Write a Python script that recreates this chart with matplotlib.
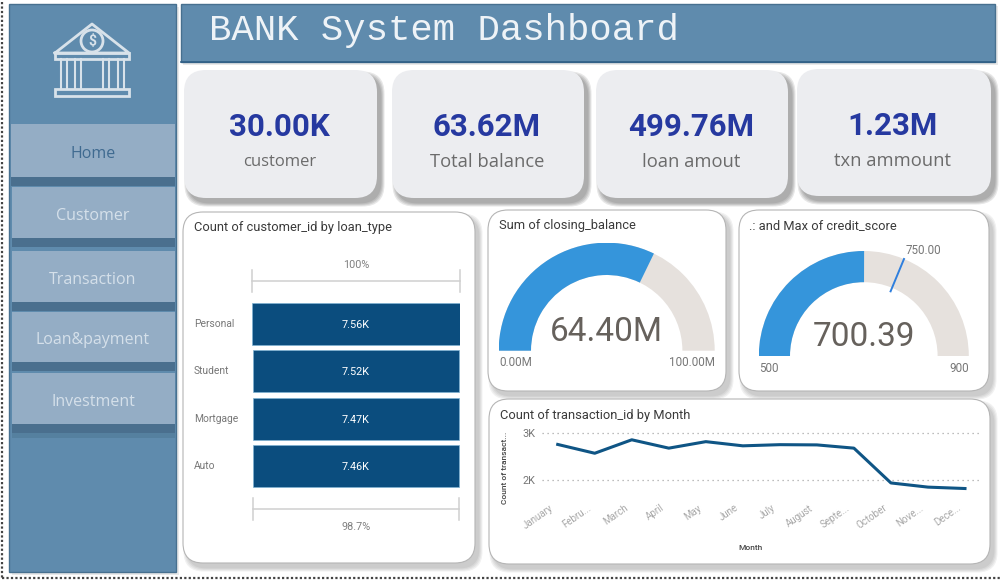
import math

import matplotlib
matplotlib.use('Agg')
import matplotlib.pyplot as plt
from matplotlib.patches import FancyBboxPatch, Rectangle, Wedge, Circle
from matplotlib.transforms import blended_transform_factory, ScaledTranslation

W, H = 1000, 582

# data
kpi_values = ['30.00K', '63.62M', '499.76M', '1.23M']
kpi_labels = ['customer', 'Total balance', 'loan amout', 'txn ammount']
nav_items = ['Home', 'Customer', 'Transaction', 'Loan&payment', 'Investment']

loan_types = ['Personal', 'Student', 'Mortgage', 'Auto']
loan_counts = [7.56, 7.52, 7.47, 7.46]
loan_labels = ['7.56K', '7.52K', '7.47K', '7.46K']

months = ['January', 'Febru...', 'March', 'April', 'May', 'June', 'July',
          'August', 'Septe...', 'October', 'Nove...', 'Dece...']
txn_counts = [2.76, 2.57, 2.86, 2.68, 2.82, 2.73, 2.755, 2.75, 2.68, 1.93, 1.84, 1.81]

balance_value, balance_min, balance_max = 64.40, 0, 100
credit_value, credit_min, credit_max, credit_target = 700.39, 500, 900, 750

SIDE = '#5f8bad'
BTN = '#94adc5'
GREY = '#777777'
UI = ['Open Sans', 'DejaVu Sans']
TITLE = ['Roboto', 'DejaVu Sans']

fig = plt.figure(figsize=(10, 5.82), dpi=100, facecolor='white')

# background axes in pixel coordinates, used for the layout boxes
bg = fig.add_axes([0, 0, 1, 1])
bg.set_xlim(0, W)
bg.set_ylim(H, 0)
bg.axis('off')


def px_axes(x0, y0, x1, y1):
    ax = fig.add_axes([x0 / W, 1 - y1 / H, (x1 - x0) / W, (y1 - y0) / H])
    ax.patch.set_alpha(0)
    return ax


def card(x0, y0, x1, y1, r, fc, ec='none', lw=0.0, alpha=0.07):
    for grow in [7, 5, 3, 1]:
        bg.add_patch(FancyBboxPatch((x0 + 4 - grow / 2, y0 + 5 - grow / 2),
                                    x1 - x0 + grow, y1 - y0 + grow,
                                    boxstyle=f'round,pad=0,rounding_size={r}',
                                    fc='#3a3a3a', ec='none', alpha=alpha))
    bg.add_patch(FancyBboxPatch((x0, y0), x1 - x0, y1 - y0,
                                boxstyle=f'round,pad=0,rounding_size={r}',
                                fc=fc, ec=ec, lw=lw))


# dotted page border
bg.plot([1.5, 1.5], [2, 578], color='#444444', lw=1.6, ls=(0, (1, 1)))
bg.plot([1.5, 1000], [578, 578], color='#444444', lw=1.6, ls=(0, (1, 1)))

# sidebar
bg.add_patch(Rectangle((12, 7), 167, 568, fc='#c8c8c8', ec='none', alpha=0.4))
bg.add_patch(Rectangle((9, 4), 167, 568, fc=SIDE, ec='#47708f', lw=1.0))

# header
bg.add_patch(Rectangle((183, 6), 815, 59, fc='#c8c8c8', ec='none', alpha=0.4))
bg.add_patch(Rectangle((181, 4), 814, 58, fc=SIDE, ec='#47708f', lw=1.0))
bg.plot([181, 995], [62, 62], color='#2f5f86', lw=1.2)
bg.text(209, 31, 'BANK System Dashboard', family=['Liberation Mono', 'DejaVu Sans Mono'],
        fontsize=26.8, color='#eef3f7', va='center', ha='left')

# bank icon
ICON = '#d8e2ea'
bg.plot([55, 92, 129, 55], [53, 24, 53, 53], color=ICON, lw=2.0, solid_joinstyle='round')
bg.add_patch(Rectangle((55, 53), 74, 6, fc='none', ec=ICON, lw=2.0))
bg.add_patch(Rectangle((55, 89), 74, 7, fc='none', ec=ICON, lw=2.0))
for cx in [63.5, 77.5, 105.5, 121]:
    bg.plot([cx - 3, cx - 3], [59, 89], color=ICON, lw=1.5)
    bg.plot([cx + 3, cx + 3], [59, 89], color=ICON, lw=1.5)
bg.add_patch(Circle((92, 41), 11, fc=SIDE, ec=ICON, lw=2.0))
bg.text(92, 41, '$', color=ICON, fontsize=10, ha='center', va='center', family=TITLE, weight='bold')

# nav buttons
btn_x0 = [11, 12, 12, 12, 12]
btn_y0 = [124, 187, 251, 312, 373]
btn_y1 = [177, 238, 302, 362, 424]
for i, name in enumerate(nav_items):
    bg.add_patch(Rectangle((btn_x0[i], btn_y1[i]), 175 - btn_x0[i], 9, fc='#4a6f8e', ec='none'))
    bg.add_patch(Rectangle((btn_x0[i], btn_y0[i]), 175 - btn_x0[i], btn_y1[i] - btn_y0[i], fc=BTN, ec='none'))
    bg.text(93, (btn_y0[i] + btn_y1[i]) / 2 + 3.5, name, family=UI, fontsize=11.5,
            color='#3f6a90' if i == 0 else '#d5e0ea', ha='center', va='center')
bg.add_patch(Rectangle((12, 433), 163, 5, fc='#55809f', ec='none'))

# KPI cards
kpi_boxes = [(184, 70, 377, 198), (392, 70, 584, 198), (596, 70, 788, 198), (797, 69, 991, 196)]
kpi_label_sizes = [12, 13.2, 13.2, 13.2]
for box, val, lab, size in zip(kpi_boxes, kpi_values, kpi_labels, kpi_label_sizes):
    x0, y0, x1, y1 = box
    card(x0, y0, x1, y1, 22, '#ecedf0', alpha=0.12)
    mid = (x0 + x1) / 2 - 1
    bg.text(mid, y0 + 57, val, family=TITLE, weight='bold', fontsize=22.5, color='#2639a0',
            ha='center', va='center')
    bg.text(mid, y0 + 92, lab, family=UI, fontsize=size, color='#6b6b6b', ha='center', va='center')

# white panels
for box in [(183, 212, 475, 563), (488, 210, 726, 391), (739, 210, 989, 391), (489, 399, 990, 564)]:
    card(*box, 20, 'white', ec='#b5b5b5', lw=0.8)

title_style = dict(family=TITLE, fontsize=9.3, color='#3a3a3a', va='center')
bg.text(194, 227, 'Count of customer_id by loan_type', **title_style)
bg.text(499, 225, 'Sum of closing_balance', **title_style)
bg.text(749, 226, '.: and Max of credit_score', **title_style)
bg.text(500, 415, 'Count of transaction_id by Month', **title_style)

# funnel of loan types
fun = px_axes(252, 255, 460, 535)
fun.axis('off')
top = loan_counts[0]
fun.set_xlim(-top / 2, top / 2)
fun.set_ylim(4.46, -1.459)
for i, v in enumerate(loan_counts):
    fun.barh(i, v, left=-v / 2, height=0.89, color='#0b4d7e', edgecolor='#7fb2d3', linewidth=0.5)
    fun.text(0, i + 0.02, loan_labels[i], color='white', fontsize=7.8, family=TITLE, ha='center', va='center')
label_tf = blended_transform_factory(fig.transFigure, fun.transData)
for i, name in enumerate(loan_types):
    fun.text(0.194, i, name, transform=label_tf, fontsize=7.4, color=GREY, family=TITLE, va='center')


def bracket(ax, y, half, dy, text, text_y):
    ax.plot([-half, half], [y, y], color='#cfcfcf', lw=1.1, clip_on=False)
    for sx in [-half, half]:
        ax.plot([sx, sx], [y - dy, y + dy], color='#cfcfcf', lw=1.1, clip_on=False)
    ax.text(0, text_y, text, fontsize=7.8, color='#808080', family=TITLE, ha='center', va='center')


bracket(fun, -0.909, loan_counts[0] / 2, 0.23, '100%', -1.25)
bracket(fun, 3.91, loan_counts[-1] / 2, 0.23,
        f'{loan_counts[-1] / loan_counts[0] * 100:.1f}%', 4.3)


# gauges
def gauge(cx, cy, r_out, r_in, value, vmin, vmax):
    ax = px_axes(cx - r_out, cy - r_out, cx + r_out, cy)
    ax.axis('off')
    ax.set_xlim(-r_out, r_out)
    ax.set_ylim(0, r_out)
    angle = 180 - 180 * (value - vmin) / (vmax - vmin)
    ax.add_patch(Wedge((0, 0), r_out, 0, 180, width=r_out - r_in, fc='#e6e1dd', ec='none'))
    ax.add_patch(Wedge((0, 0), r_out, angle, 180, width=r_out - r_in, fc='#3595db', ec='none'))
    return ax


big_text = dict(family=TITLE, fontsize=24, color='#66615c', ha='center', va='center')
small_text = dict(fontsize=8.4, color=GREY, family=TITLE, va='center')

gauge(606.7, 350.7, 108, 75.7, balance_value, balance_min, balance_max)
fig.text(0.6065, 1 - 332 / H, f'{balance_value:.2f}M', **big_text)
fig.text(0.499, 1 - 363 / H, f'{balance_min:.2f}M', **small_text)
fig.text(0.715, 1 - 363 / H, f'{balance_max:.2f}M', ha='right', **small_text)

credit_ax = gauge(863.8, 356, 105, 73.8, credit_value, credit_min, credit_max)
t = math.radians(180 - 180 * (credit_target - credit_min) / (credit_max - credit_min))
credit_ax.plot([70 * math.cos(t), 105 * math.cos(t)], [70 * math.sin(t), 105 * math.sin(t)],
               color='#2f7fdd', lw=1.4, clip_on=False)
fig.text(0.8635, 1 - 337 / H, f'{credit_value:.2f}', **big_text)
fig.text(0.759, 1 - 368 / H, f'{credit_min}', **small_text)
fig.text(0.969, 1 - 368 / H, f'{credit_max}', ha='right', **small_text)
fig.text(0.906, 1 - 251 / H, f'{credit_target:.2f}', **small_text)

# line chart
ax = px_axes(542, 425, 980, 500)
ax.set_xlim(-15.7 / 37, 11 + 15 / 37)
ax.set_ylim(3 - (500 - 433.3) / 46.4, 3 + (433.3 - 425) / 46.4)
ax.plot(range(len(months)), txn_counts, color='#0f5585', lw=2.2, solid_joinstyle='round')
ax.set_yticks([2, 3])
ax.set_yticklabels(['2K', '3K'], fontsize=7.8, color=GREY, family=TITLE)
ax.set_xticks(range(len(months)))
ax.set_xticklabels(months, rotation=35, ha='right', rotation_mode='anchor', fontsize=7,
                   color='#a8a8a8', family=TITLE)
ax.tick_params(length=0, axis='both')
ax.tick_params(axis='x', pad=2)
ax.tick_params(axis='y', pad=5)
shift = ScaledTranslation(-8 / 100, 0, fig.dpi_scale_trans)
for lab in ax.get_xticklabels():
    lab.set_transform(lab.get_transform() + shift)
ax.grid(axis='y', color='#a8a8a8', lw=0.9, ls=(0, (1, 3)))
ax.set_axisbelow(True)
for s in ax.spines.values():
    s.set_visible(False)
fig.text(0.7505, 1 - 548 / H, 'Month', fontsize=6, color='#444444', family=TITLE, ha='center', va='center', weight='medium')
fig.text(0.505, 1 - 468 / H, 'Count of transact...', fontsize=6, color='#444444', family=TITLE,
         rotation=90, ha='center', va='center', weight='medium')

fig.savefig('out.png', dpi=100)
